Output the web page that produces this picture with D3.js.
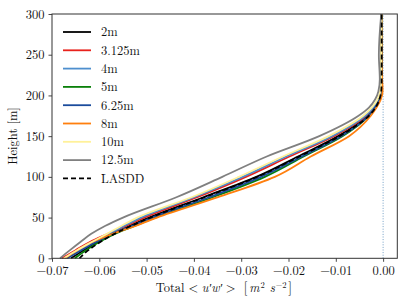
<!DOCTYPE html>
<html><head><meta charset="utf-8">
<script src="https://cdn.jsdelivr.net/npm/d3@7"></script>
<style>body{margin:0;background:#fff}svg{display:block}text{font-family:"Latin Modern Roman","Liberation Serif",serif}</style>
</head><body><svg id="c" width="407" height="305"></svg>
<script>
const heights = [0, 10, 20, 30, 40, 50, 75, 100, 125, 150, 175, 185, 195, 205, 220, 250, 300];
const s2m    = [-0.0660,-0.0633,-0.0604,-0.0572,-0.0535,-0.0495,-0.0380,-0.0268,-0.0180,-0.0095,-0.0033,-0.0018,-0.0009,-0.0004,-0.0003,-0.0003,-0.0003];
const s3125m = [-0.0679,-0.0650,-0.0620,-0.0582,-0.0543,-0.0505,-0.0393,-0.0290,-0.0198,-0.0104,-0.0036,-0.0020,-0.0010,-0.0005,-0.0003,-0.0003,-0.0003];
const s4m    = [-0.0672,-0.0644,-0.0613,-0.0580,-0.0547,-0.0512,-0.0400,-0.0297,-0.0205,-0.0108,-0.0038,-0.0021,-0.0010,-0.0005,-0.0004,-0.0003,-0.0003];
const s5m    = [-0.0652,-0.0628,-0.0600,-0.0567,-0.0524,-0.0482,-0.0360,-0.0250,-0.0168,-0.0086,-0.0030,-0.0016,-0.0007,-0.0003,-0.0003,-0.0003,-0.0003];
const s625m  = [-0.0668,-0.0638,-0.0607,-0.0573,-0.0530,-0.0488,-0.0368,-0.0258,-0.0172,-0.0089,-0.0031,-0.0017,-0.0008,-0.0004,-0.0003,-0.0003,-0.0003];
const s8m    = [-0.0673,-0.0646,-0.0615,-0.0572,-0.0522,-0.0478,-0.0349,-0.0229,-0.0153,-0.0072,-0.0026,-0.0014,-0.0005,-0.0001,-0.0002,-0.0003,-0.0003];
const s10m   = [-0.0675,-0.0647,-0.0616,-0.0584,-0.0553,-0.0520,-0.0405,-0.0305,-0.0212,-0.0115,-0.0042,-0.0024,-0.0012,-0.0006,-0.0004,-0.0004,-0.0003];
const s125m  = [-0.0683,-0.0662,-0.0640,-0.0617,-0.0587,-0.0550,-0.0437,-0.0340,-0.0246,-0.0135,-0.0052,-0.0030,-0.0017,-0.0010,-0.0007,-0.0009,-0.0004];
const lasdd  = [-0.0642,-0.0623,-0.0598,-0.0568,-0.0532,-0.0492,-0.0377,-0.0266,-0.0177,-0.0092,-0.0030,-0.0016,-0.0008,-0.0004,-0.0003,-0.0003,-0.0003];

const seriesNames = ["2m","3.125m","4m","5m","6.25m","8m","10m","12.5m","LASDD"];
const seriesValues = [s2m, s3125m, s4m, s5m, s625m, s8m, s10m, s125m, lasdd];
const seriesColors = ["#000000","#e8221c","#4e8fce","#0a800a","#1b4c9c","#ff7f0e","#fff19a","#808080","#000000"];
const seriesDash = [null,null,null,null,null,null,null,null,"5,3"];

const xTicks = [-0.07,-0.06,-0.05,-0.04,-0.03,-0.02,-0.01,0.00];
const yTicks = [0,50,100,150,200,250,300];

const FONT = '"Latin Modern Roman","Liberation Serif",serif';
const FS = 12.5;
const svg = d3.select("#c");
const L = 52, R = 397.3, T = 14, B = 258.3;
const x = d3.scaleLinear().domain([-0.07, 0.003]).range([L, R]);
const y = d3.scaleLinear().domain([0, 300]).range([B, T]);

svg.append("line").attr("x1", x(0)).attr("x2", x(0)).attr("y1", y(0)).attr("y2", y(300))
  .attr("stroke", "#4f86b8").attr("stroke-width", 0.8).attr("stroke-dasharray", "1,1.6");

const line = d3.line().x(d => x(d[1])).y(d => y(d[0])).curve(d3.curveMonotoneY);
const plot = svg.append("g");
seriesValues.forEach((vals, i) => {
  plot.append("path").datum(heights.map((h, k) => [h, vals[k]]))
    .attr("d", line).attr("fill", "none")
    .attr("stroke", seriesColors[i]).attr("stroke-width", 1.8)
    .attr("stroke-dasharray", seriesDash[i]);
});

svg.append("rect").attr("x", L).attr("y", T).attr("width", R - L).attr("height", B - T)
  .attr("fill", "none").attr("stroke", "#333").attr("stroke-width", 1);

const fmt = d => (d < 0 ? "\u2212" : "") + Math.abs(d).toFixed(2);
const xa = svg.append("g").attr("transform", `translate(0,${B})`)
  .call(d3.axisBottom(x).tickValues(xTicks).tickFormat(fmt).tickSize(3.5).tickPadding(4));
const ya = svg.append("g").attr("transform", `translate(${L},0)`)
  .call(d3.axisLeft(y).tickValues(yTicks).tickSize(3.5).tickPadding(4));
[xa, ya].forEach(a => {
  a.attr("font-family", FONT);
  a.select(".domain").remove();
  a.selectAll("line").attr("stroke", "#333").attr("stroke-width", 0.9);
  a.selectAll("text").style("font-family", FONT).attr("font-size", FS).attr("fill", "#111");
});

// x-axis label
const xl = svg.append("text").attr("x", 224).attr("y", 292).attr("text-anchor", "middle")
  .style("font-family", FONT).attr("font-size", FS).attr("fill", "#111");
xl.append("tspan").text("Total");
xl.append("tspan").attr("dx", 4).text("<");
xl.append("tspan").attr("dx", 3.5).attr("font-style", "italic").text("u\u2032w\u2032");
xl.append("tspan").attr("dx", 3.5).text(">");
xl.append("tspan").attr("dx", 8).attr("font-size", 14).text("[");
xl.append("tspan").attr("dx", 1.8).attr("font-style", "italic").text("m");
xl.append("tspan").attr("dx", 1).attr("dy", -4).attr("font-size", 8.5).text("2");
xl.append("tspan").attr("dx", 5).attr("dy", 4).attr("font-style", "italic").text("s");
xl.append("tspan").attr("dx", 0.8).attr("dy", -4).attr("font-size", 8.5).text("\u22122");
xl.append("tspan").attr("dx", 1.8).attr("dy", 4).attr("font-size", 14).text("]");

svg.append("text").attr("transform", "translate(17,136) rotate(-90)").attr("text-anchor", "middle")
  .style("font-family", FONT).attr("font-size", FS).attr("fill", "#111").text("Height [m]");

const lg = svg.append("g");
seriesNames.forEach((n, i) => {
  const yy = 32 + i * 18.3;
  lg.append("line").attr("x1", 63).attr("x2", 91).attr("y1", yy).attr("y2", yy)
    .attr("stroke", seriesColors[i]).attr("stroke-width", 1.8).attr("stroke-dasharray", seriesDash[i]);
  lg.append("text").attr("x", 101).attr("y", yy + 4.3).style("font-family", FONT)
    .attr("font-size", FS).attr("fill", "#111").text(n);
});
</script></body></html>
